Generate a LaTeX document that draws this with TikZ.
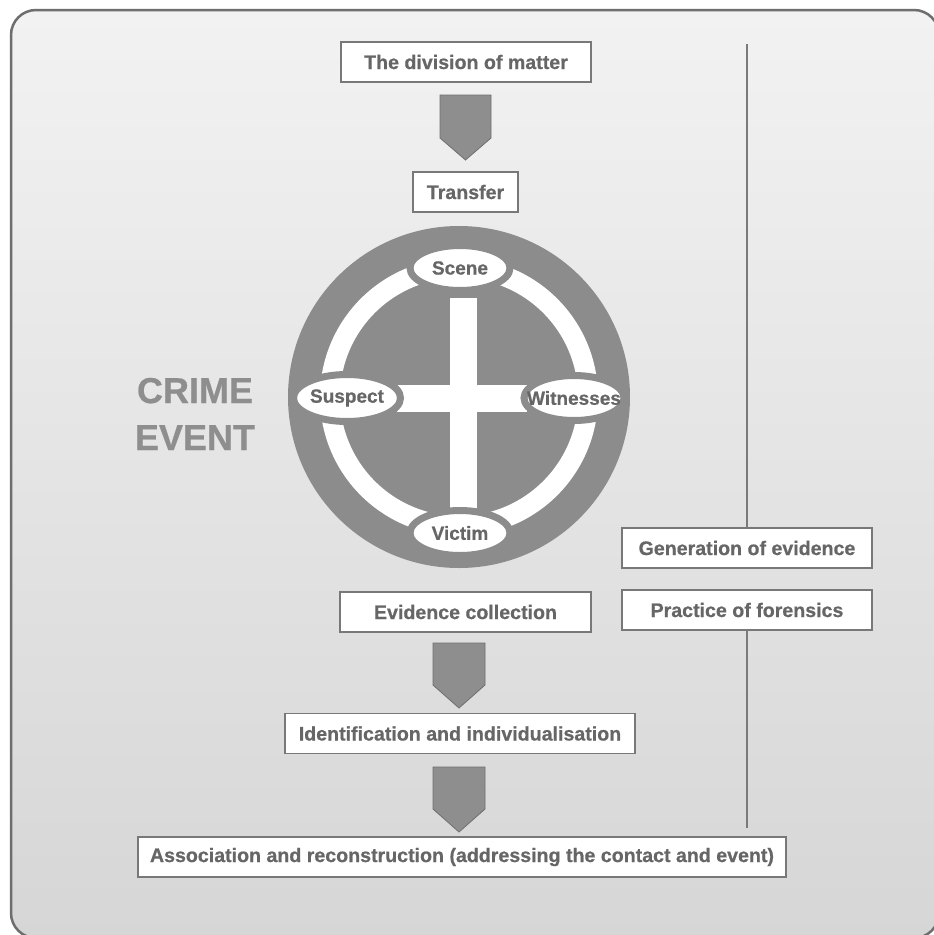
\documentclass[tikz,border=0pt]{standalone}
\usepackage{fontspec}
\setmainfont{Liberation Sans}[BoldFeatures={FakeBold=0.6}]
\usetikzlibrary{shapes.geometric,calc}

\definecolor{bgtop}{HTML}{F2F2F2}
\definecolor{bgbot}{HTML}{D6D6D6}
\definecolor{framegray}{HTML}{6E6E6E}
\definecolor{wheelgray}{HTML}{8C8C8C}
\definecolor{arrowfill}{HTML}{8E8E8E}
\definecolor{arrowedge}{HTML}{6F6F6F}
\definecolor{boxedge}{HTML}{787878}
\definecolor{labeltext}{HTML}{666666}
\definecolor{titletext}{HTML}{8E8E8E}
\definecolor{rulegray}{HTML}{7A7A7A}

\tikzset{
  stagebox/.style={draw=boxedge, line width=1.2pt, fill=white, text=labeltext,
    font=\bfseries\fontsize{19.6}{22}\selectfont, minimum height=40pt,
    inner sep=0pt, outer sep=0pt},
  party/.style={ellipse, draw=wheelgray, line width=7pt, fill=white, text=labeltext,
    font=\bfseries\fontsize{19}{21}\selectfont, minimum width=100pt,
    minimum height=45pt, inner sep=0pt},
  blockarrow/.style={fill=arrowfill, draw=arrowedge, line width=0.8pt},
  title/.style={text=titletext, font=\bfseries\fontsize{36}{40}\selectfont,
    anchor=base, inner sep=0pt},
  rule/.style={draw=rulegray, line width=1.5pt}
}
% label centred in an ellipse without widening it
\newcommand\partytext[1]{\makebox[0pt][c]{#1}}

\begin{document}
\begin{tikzpicture}[x=1pt, y=-1pt]
  \useasboundingbox (0,0) rectangle (934,935);
  \clip (0,0) rectangle (934,935);

  % page background and rounded frame
  \fill[white] (0,0) rectangle (934,935);
  \shade[top color=bgtop, bottom color=bgbot, draw=framegray, line width=2.5pt,
         rounded corners=25pt] (11,10) rectangle (939,938);

  % flow boxes
  \node[stagebox, minimum width=250pt] (div)  at (466,62)    {The division of matter};
  \node[stagebox, minimum width=105pt] (tr)   at (465.5,192) {Transfer};
  \node[stagebox, minimum width=251pt] (evc)  at (465.5,612) {Evidence collection};
  \node[stagebox, minimum width=350pt] (idn)  at (460,733.5) {Identification and individualisation};
  \node[stagebox, minimum width=648pt] (asc)  at (462,857)   {Association and reconstruction (addressing the contact and event)};
  \node[stagebox, minimum width=250pt] (gen)  at (747,548)   {Generation of evidence};
  \node[stagebox, minimum width=250pt] (prac) at (747,610)   {Practice of forensics};

  % block arrows between the stages
  \draw[blockarrow] (440,95)  -- (491,95)  -- (491,138) -- (465.5,160) -- (440,138) -- cycle;
  \draw[blockarrow] (433,643) -- (485,643) -- (485,685) -- (459,708)   -- (433,685) -- cycle;
  \draw[blockarrow] (433,767) -- (485,767) -- (485,809) -- (459,832)   -- (433,809) -- cycle;

  % vertical rule on the right
  \coordinate (ltop) at (747,44);
  \coordinate (lbot) at (747,828);
  \draw[rule] (ltop) -- (gen.north);
  \draw[rule] (prac.south) -- (lbot);

  % crime event wheel
  \coordinate (hub) at (459,397);
  \fill[wheelgray] (hub) circle[radius=171pt];
  \draw[white, line width=20pt] (hub) circle[radius=129pt];
  \fill[white] (450,298) rectangle (477,522);
  \fill[white] (397,385) rectangle (527,412);

  \node[party] (scene)   at (460,268) {\partytext{Scene}};
  \node[party, minimum width=107pt, minimum height=47pt] (suspect) at (347,398) {\partytext{Suspect}};
  \node[party] (witness) at (574,398) {\partytext{Witnesses}};
  \node[party] (victim)  at (460,533) {\partytext{Victim}};

  % side title
  \node[title] (crime) at (195,403) {CRIME};
  \node[title] (event) at (195,450) {EVENT};
\end{tikzpicture}
\end{document}
